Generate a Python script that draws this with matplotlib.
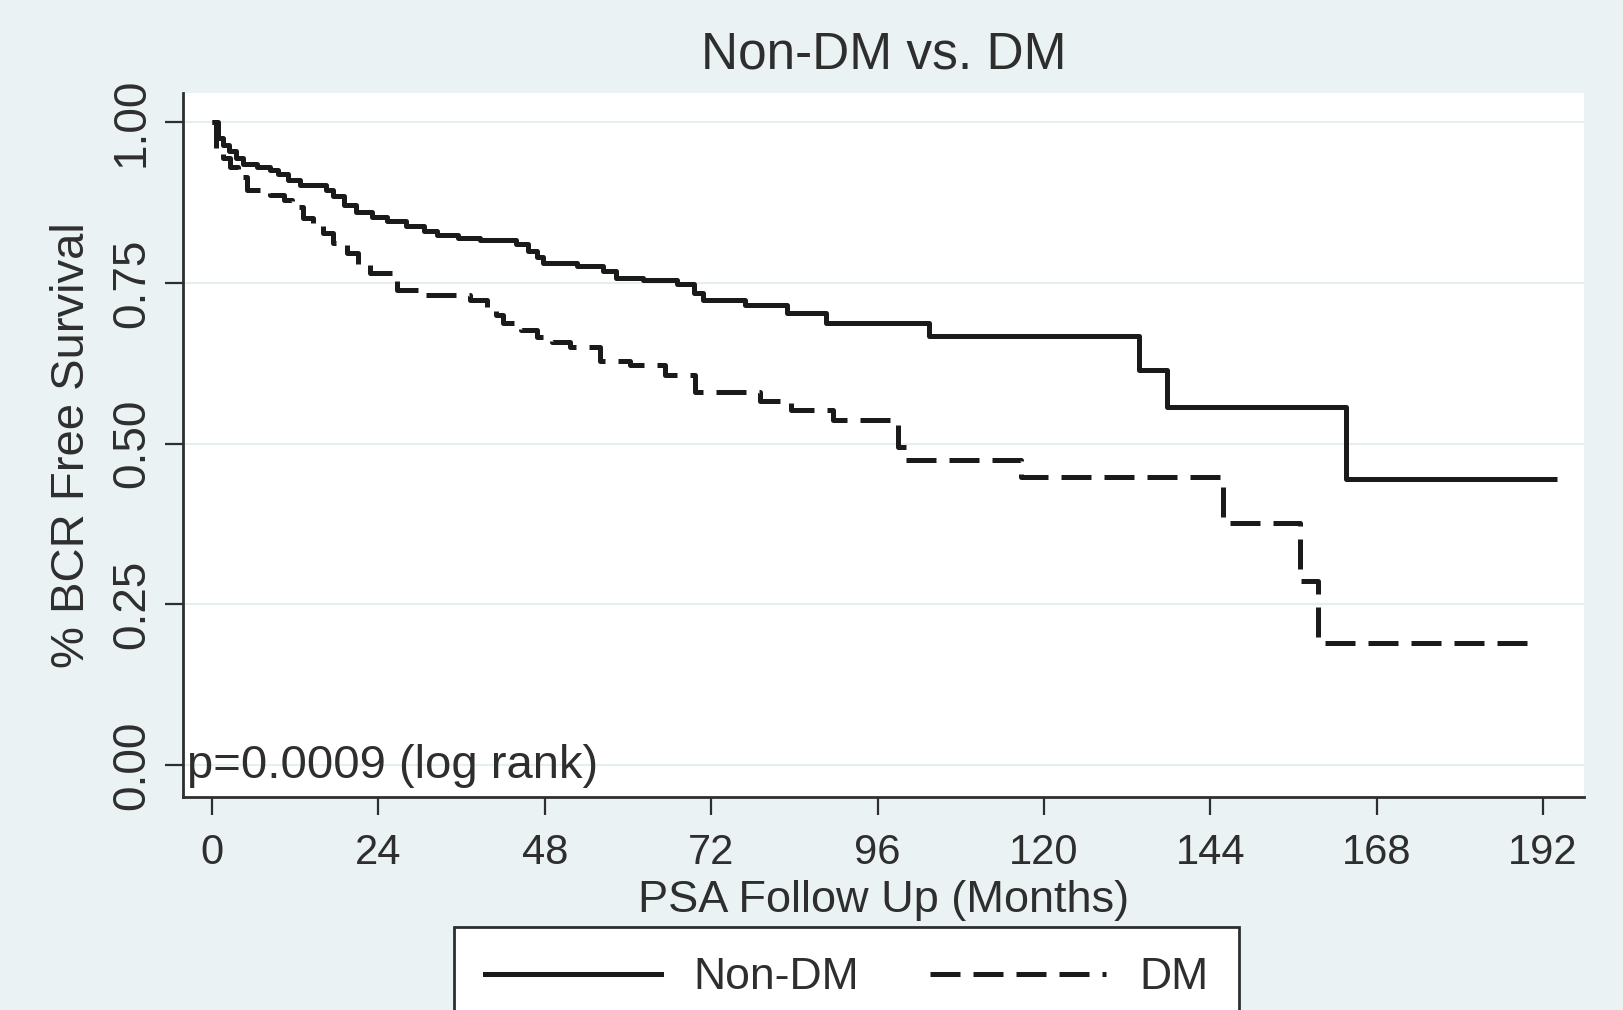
import matplotlib
matplotlib.use('Agg')
import matplotlib.pyplot as plt
from matplotlib.lines import Line2D

plt.rcParams['font.family'] = ['Liberation Sans', 'DejaVu Sans']

# Kaplan-Meier step points (months, survival)
t_non = [0, 0.8, 1.5, 2.5, 3.5, 4.5, 6.5, 8.3, 9.5, 11, 12.7, 16.5, 17.5, 19, 20.8,
         23, 25.2, 28, 30.5, 32.4, 35.5, 38.6, 43.9, 45.5, 46.8, 47.8, 52.6, 56.4,
         58.3, 62.2, 67, 69.5, 70.8, 76.9, 83, 88.5, 103.4, 133.7, 137.8, 163.6, 194]
s_non = [1.0, 0.975, 0.965, 0.955, 0.945, 0.935, 0.93, 0.926, 0.92, 0.91, 0.903, 0.895,
         0.885, 0.872, 0.86, 0.852, 0.846, 0.838, 0.831, 0.825, 0.82, 0.817, 0.81, 0.8,
         0.79, 0.781, 0.776, 0.768, 0.757, 0.755, 0.749, 0.735, 0.723, 0.716, 0.703,
         0.688, 0.667, 0.614, 0.557, 0.445, 0.445]

t_dm = [0, 0.5, 1.5, 2.6, 3.8, 5.0, 8.3, 10.3, 11.5, 13.1, 14.5, 16.0, 17.5, 19.4, 21,
        22.8, 26.6, 30.4, 37.2, 39.6, 41, 42, 44.5, 46.8, 49, 51.6, 55.9, 60.3, 65.3,
        69.7, 79.1, 83.5, 89.6, 99.0, 100.1, 116.7, 145.8, 156.9, 159.5, 191]
s_dm = [1.0, 0.955, 0.945, 0.931, 0.915, 0.895, 0.887, 0.879, 0.868, 0.851, 0.84, 0.827,
        0.812, 0.796, 0.78, 0.765, 0.739, 0.731, 0.723, 0.713, 0.7, 0.687, 0.676, 0.666,
        0.658, 0.651, 0.628, 0.622, 0.607, 0.581, 0.566, 0.553, 0.537, 0.495, 0.474,
        0.448, 0.376, 0.286, 0.19, 0.19]

x_ticks = [0, 24, 48, 72, 96, 120, 144, 168, 192]
y_ticks = [0.0, 0.25, 0.5, 0.75, 1.0]
groups = ['Non-DM', 'DM']

bg = '#eaf2f3'
ink = '#2e2e2e'
dash = (6.0, 2.6)
lw = 3.6

fig = plt.figure(figsize=(16.23, 10.10), dpi=100, facecolor=bg)
ax = fig.add_axes([183 / 1623, 1 - 797 / 1010, (1584 - 183) / 1623, (797 - 93) / 1010])
ax.set_facecolor('white')

for y in y_ticks:
    ax.axhline(y, color='#e6eef0', lw=1.5, zorder=0)

ax.plot(t_non, s_non, drawstyle='steps-post', color='#1a1a1a', lw=lw, solid_capstyle='butt')
ax.plot(t_dm, s_dm, drawstyle='steps-post', color='#1a1a1a', lw=lw,
        linestyle=(0, dash), dash_capstyle='butt')

ax.set_xlim(-4.2, 197.9)
ax.set_ylim(-0.05, 1.0456)

for side in ['top', 'right']:
    ax.spines[side].set_visible(False)
for side in ['left', 'bottom']:
    ax.spines[side].set_color(ink)
    ax.spines[side].set_linewidth(2)

ax.set_xticks(x_ticks)
ax.set_xticklabels([str(v) for v in x_ticks])
ax.set_yticks(y_ticks)
ax.set_yticklabels(['%.2f' % v for v in y_ticks])
ax.tick_params(axis='both', length=13, width=1.6, color=ink, labelcolor=ink)
ax.tick_params(axis='x', labelsize=30, pad=13)
ax.tick_params(axis='y', labelsize=33, labelrotation=90, pad=8)
for lab in ax.get_yticklabels():
    lab.set_va('center')

ax.set_title('Non-DM vs. DM', fontsize=37, color=ink, pad=18)
ax.set_xlabel('PSA Follow Up (Months)', fontsize=32.5, color=ink, va='center')
ax.xaxis.set_label_coords(0.5, -0.147)
ax.set_ylabel('% BCR Free Survival', fontsize=34, color=ink, va='center')
ax.yaxis.set_label_coords(-0.0792, 0.5)

ax.text(-3.6, -0.002, 'p=0.0009 (log rank)', fontsize=34, color=ink, ha='left', va='center')

handles = [Line2D([], [], color='#1a1a1a', lw=lw),
           Line2D([], [], color='#1a1a1a', lw=lw, linestyle=(0, dash), dash_capstyle='butt')]
leg = ax.legend(handles, groups, loc='upper center', bbox_to_anchor=(846.5 / 1623, 1 - 927 / 1010),
                bbox_transform=fig.transFigure, ncol=2, fontsize=32, frameon=True,
                fancybox=False, framealpha=1, facecolor='white', edgecolor=ink,
                handlelength=3.96, handletextpad=0.74, columnspacing=1.6,
                borderpad=0.68, borderaxespad=0)
leg.get_frame().set_linewidth(2)
for txt in leg.get_texts():
    txt.set_color(ink)

fig.savefig('out.png', dpi=100, facecolor=bg)
